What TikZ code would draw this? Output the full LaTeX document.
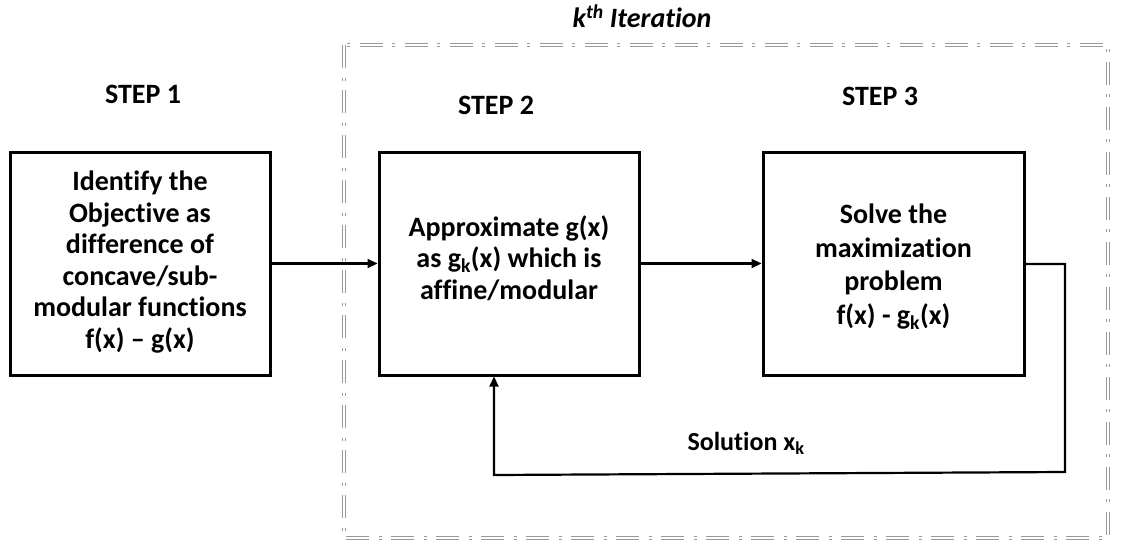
\documentclass[tikz,border=0pt]{standalone}
\usepackage{fontspec}
\setmainfont{Carlito}[Ligatures=NoCommon]
\usetikzlibrary{arrows.meta}
\begin{document}
\begin{tikzpicture}[x=1pt,y=-1pt,
  stepbox/.style={draw=black,line width=3pt,minimum width=260pt,minimum height=223pt,inner sep=0pt},
  boxtext/.style={align=center,inner sep=0pt,font=\fontsize{28}{31.5}\selectfont\bfseries},
  steplabel/.style={font=\fontsize{28}{32}\selectfont\bfseries},
  arr/.style={line width=2.2pt,-{Triangle[length=10pt,width=9pt]}},
  iterbox/.style={draw=gray!80,line width=0.9pt,double=white,double distance=1.8pt,dash pattern=on 23pt off 10pt on 3pt off 9pt}
]
\useasboundingbox (0,0) rectangle (1122,546);
\draw[iterbox] (344,45) rectangle (1108,538);
\node[font=\fontsize{28}{32}\selectfont\bfseries\itshape] (iter) at (642,16) {k\textsuperscript{th} Iteration};
\node[steplabel] (s1) at (143,94) {STEP 1};
\node[steplabel] (s2) at (496,105) {STEP 2};
\node[steplabel] (s3) at (880,96) {STEP 3};
\node[stepbox] (b1) at (140,263.5) {};
\node[stepbox] (b2) at (509,263.5) {};
\node[stepbox,minimum width=261pt] (b3) at (893.5,263.5) {};
\node[boxtext] (t1) at (140,262) {Identify the\\Objective as\\difference of\\concave/sub-\\modular functions\\f(x) -- g(x)};
\node[boxtext] (t2) at (509,258) {Approximate g(x)\\as g\textsubscript{k}(x) which is\\affine/modular};
\node[boxtext,font=\fontsize{28}{33.5}\selectfont\bfseries] (t3) at (893.5,267) {Solve the\\maximization\\problem\\f(x) - g\textsubscript{k}(x)};
\node[font=\fontsize{26}{32}\selectfont\bfseries] (sol) at (746,443) {Solution x\textsubscript{k}};
\coordinate (c1) at (1065,264);
\coordinate (c2) at (1065,472);
\coordinate (c3) at (494,475);
\draw[arr] (b1) -- (b2);
\draw[arr] (b2) -- (b3);
\draw[arr,line join=miter] (b3.east |- c1) -- (c1) -- (c2) -- (c3) -- (c3 |- b2.south);
\end{tikzpicture}
\end{document}
